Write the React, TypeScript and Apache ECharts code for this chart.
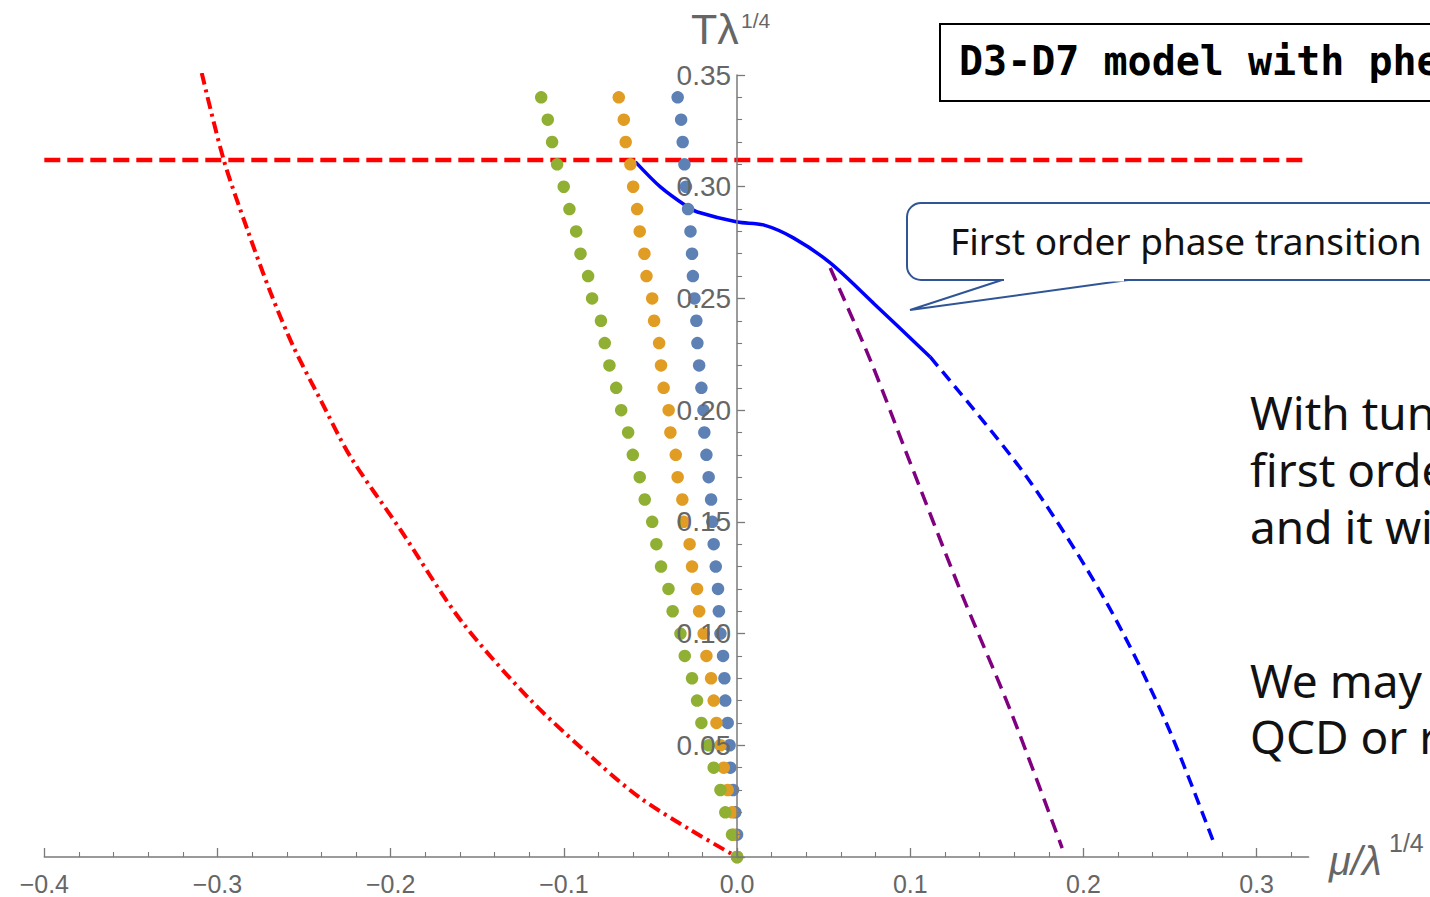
import React, { useEffect, useRef } from "react";
import * as echarts from "echarts";

// y levels of the three dotted series (top to bottom)
const dotY = [0.34, 0.33, 0.32, 0.31, 0.3, 0.29, 0.28, 0.27, 0.26, 0.25, 0.24, 0.23, 0.22, 0.21, 0.2, 0.19, 0.18, 0.17, 0.16, 0.15, 0.14, 0.13, 0.12, 0.11, 0.1, 0.09, 0.08, 0.07, 0.06, 0.05, 0.04, 0.03, 0.02, 0.01, 0.0];
const blueDotX = [-0.0343, -0.0323, -0.0314, -0.0304, -0.0295, -0.0283, -0.0269, -0.026, -0.0255, -0.0246, -0.0235, -0.0229, -0.0219, -0.0206, -0.0194, -0.0189, -0.0177, -0.0164, -0.015, -0.0143, -0.0135, -0.0123, -0.011, -0.0105, -0.0096, -0.0081, -0.0073, -0.0068, -0.0054, -0.0043, -0.0039, -0.0023, -0.001, 0.0, 0.0];
const orangeDotX = [-0.0683, -0.0654, -0.0643, -0.0616, -0.06, -0.0577, -0.0562, -0.0535, -0.0523, -0.049, -0.0479, -0.045, -0.0439, -0.0424, -0.0395, -0.0385, -0.0354, -0.0343, -0.0316, -0.0308, -0.0274, -0.026, -0.0231, -0.0219, -0.0193, -0.0177, -0.015, -0.0135, -0.0119, -0.0096, -0.0077, -0.0054, -0.0029, -0.002, 0.0];
const greenDotX = [-0.1131, -0.1093, -0.1068, -0.1039, -0.1001, -0.0968, -0.0929, -0.0904, -0.086, -0.0837, -0.0786, -0.0764, -0.0737, -0.0698, -0.0669, -0.0629, -0.0602, -0.0562, -0.0533, -0.049, -0.0466, -0.0439, -0.0396, -0.0372, -0.0327, -0.0302, -0.026, -0.0231, -0.0206, -0.0164, -0.0135, -0.0096, -0.0068, -0.0029, 0.0];

// red horizontal dashed line
const redFlatX = [-0.4, 0.3297];
const redFlatY = [0.312, 0.312];

// red dash-dot curve
const redCurveX = [-0.3091, -0.2964, -0.2827, -0.2693, -0.2561, -0.2405, -0.2232, -0.1943, -0.1597, -0.1193, -0.0789, -0.0558, -0.0269, 0.0];
const redCurveY = [0.3509, 0.312, 0.2807, 0.2525, 0.2283, 0.2046, 0.1791, 0.1464, 0.1061, 0.0703, 0.0412, 0.0264, 0.0121, 0.0];

// blue first-order line (solid part, then dashed part)
const blueSolidX = [-0.0587, -0.0443, -0.0287, -0.0229, 0.0002, 0.0152, 0.0325, 0.0538, 0.0786, 0.1115];
const blueSolidY = [0.3111, 0.2999, 0.291, 0.2887, 0.2842, 0.2829, 0.2771, 0.2659, 0.248, 0.2238];
const blueDashX = [0.1115, 0.1664, 0.2125, 0.2471, 0.276];
const blueDashY = [0.2238, 0.171, 0.115, 0.0613, 0.0049];

// purple dashed line
const purpleX = [0.0538, 0.0769, 0.0971, 0.1288, 0.1577, 0.1877];
const purpleY = [0.2636, 0.2225, 0.1822, 0.1195, 0.0658, 0.004];

// tick labels
const xTickValues = [-0.4, -0.3, -0.2, -0.1, 0.0, 0.1, 0.2, 0.3];
const yTickLabelValues = [0.05, 0.1, 0.15, 0.2, 0.25, 0.3, 0.35];

const title = "D3-D7 model with phe";
const calloutText = "First order phase transition";
const sideLines1 = ["With tun", "first orde", "and it wi"];
const sideLines2 = ["We may", "QCD or r"];

const zip = (xs: number[], ys: number[]) => xs.map((x, i) => [x, ys[i]]);

const AXIS_COLOR = "#7a7a7a";
const LABEL_COLOR = "#666666";
const SANS = "'Liberation Sans', Arial, sans-serif";
const JP = "'Noto Sans', 'Noto Sans CJK JP', sans-serif";

const GRID_LEFT = 44.3;
const GRID_RIGHT_PX = 1308.6;
const X_MIN = -0.4;
const X_MAX = 0.33;

export default function App() {
  const ref = useRef<HTMLDivElement>(null);
  useEffect(() => {
    if (!ref.current) return;
    const chart = echarts.init(ref.current, null, { renderer: "svg" });
    const fmtX = (v: number) => (v < -1e-9 ? "\u2212" + Math.abs(v).toFixed(1) : Math.abs(v).toFixed(1));
    // y axis sits at x = 0: shift it right from the grid's left edge
    const zeroPx = GRID_LEFT + ((0 - X_MIN) / (X_MAX - X_MIN)) * (GRID_RIGHT_PX - GRID_LEFT);
    const option: any = {
      animation: false,
      backgroundColor: "#ffffff",
      grid: { left: GRID_LEFT, right: 1430 - GRID_RIGHT_PX, top: 75, bottom: 40, containLabel: false, outerBoundsMode: "none" },
      xAxis: {
        type: "value",
        min: X_MIN,
        max: X_MAX,
        interval: 0.1,
        axisLine: { onZero: true, lineStyle: { color: AXIS_COLOR, width: 1.5 } },
        axisTick: { show: true, inside: true, length: 9, customValues: xTickValues, lineStyle: { color: AXIS_COLOR, width: 1.3 } },
        minorTick: { show: true, splitNumber: 5, length: 5, lineStyle: { color: AXIS_COLOR, width: 1.1 } },
        axisLabel: { customValues: xTickValues, formatter: fmtX, color: LABEL_COLOR, fontSize: 25, fontFamily: SANS, margin: 14 },
        splitLine: { show: false },
        minorSplitLine: { show: false },
        z: 6,
      },
      yAxis: {
        type: "value",
        position: "left",
        offset: -(zeroPx - GRID_LEFT),
        min: 0,
        max: 0.35,
        interval: 0.05,
        axisLine: { onZero: false, lineStyle: { color: AXIS_COLOR, width: 1.5 } },
        axisTick: { show: true, inside: true, length: 8, lineStyle: { color: AXIS_COLOR, width: 1.3 } },
        minorTick: { show: true, splitNumber: 5, length: 5, lineStyle: { color: AXIS_COLOR, width: 1.1 } },
        axisLabel: { customValues: yTickLabelValues, formatter: (v: number) => v.toFixed(2), color: LABEL_COLOR, fontSize: 28, fontFamily: SANS, margin: 6 },
        splitLine: { show: false },
        z: 6,
      },
      series: [
        {
          type: "line", data: zip(redFlatX, redFlatY), showSymbol: false, symbol: "none", z: 2,
          lineStyle: { color: "#ff0000", width: 4.5, type: [16, 7] },
        },
        {
          type: "line", data: zip(redCurveX, redCurveY), showSymbol: false, symbol: "none", smooth: 0.3, z: 2,
          lineStyle: { color: "#ff0000", width: 4, type: [12, 5, 3, 5] },
        },
        {
          type: "line", data: zip(blueSolidX, blueSolidY), showSymbol: false, symbol: "none", smooth: 0.3, z: 2,
          lineStyle: { color: "#0000ff", width: 3.5 },
        },
        {
          type: "line", data: zip(blueDashX, blueDashY), showSymbol: false, symbol: "none", smooth: 0.3, z: 2,
          lineStyle: { color: "#0000ff", width: 3.5, type: [12, 7] },
        },
        {
          type: "line", data: zip(purpleX, purpleY), showSymbol: false, symbol: "none", smooth: 0.3, z: 2,
          lineStyle: { color: "#800080", width: 3.5, type: [14, 8] },
        },
        { type: "scatter", data: zip(blueDotX, dotY), symbolSize: 12.5, itemStyle: { color: "#5E81B5", opacity: 1 }, z: 4 },
        { type: "scatter", data: zip(orangeDotX, dotY), symbolSize: 12.5, itemStyle: { color: "#E19C24", opacity: 1 }, z: 4 },
        { type: "scatter", data: zip(greenDotX, dotY), symbolSize: 12.5, itemStyle: { color: "#8FB032", opacity: 1 }, z: 4 },
      ],
      graphic: [
        // y axis name
        { type: "text", x: 691, y: 29, style: { text: "T\u03bb", font: `43px ${SANS}`, fill: LABEL_COLOR, verticalAlign: "middle" } },
        { type: "text", x: 741, y: 20, style: { text: "1/4", font: `21px ${SANS}`, fill: LABEL_COLOR, verticalAlign: "middle" } },
        // x axis name
        { type: "text", x: 1329, y: 861, style: { text: "\u03bc/\u03bb", font: `italic 40px ${SANS}`, fill: LABEL_COLOR, verticalAlign: "middle" } },
        { type: "text", x: 1389, y: 843, style: { text: "1/4", font: `25px ${SANS}`, fill: LABEL_COLOR, verticalAlign: "middle" } },
        // title box
        { type: "rect", shape: { x: 940, y: 24, width: 540, height: 77 }, style: { fill: "#ffffff", stroke: "#000000", lineWidth: 2 }, z: 10 },
        { type: "text", x: 959, y: 61, style: { text: title, font: `bold 40px 'DejaVu Sans Mono', monospace`, fill: "#000000", verticalAlign: "middle" }, z: 11 },
        // callout
        { type: "rect", shape: { x: 907, y: 203, width: 560, height: 77, r: 14 }, style: { fill: "#ffffff", stroke: "#2F5597", lineWidth: 2 }, z: 10 },
        { type: "polygon", shape: { points: [[1002, 280], [910, 310], [1128, 280]] }, style: { fill: "#ffffff", stroke: "#2F5597", lineWidth: 2 }, z: 11 },
        { type: "line", shape: { x1: 1004, y1: 280, x2: 1124, y2: 280 }, style: { stroke: "#ffffff", lineWidth: 3 }, z: 12 },
        { type: "text", x: 950, y: 240, style: { text: calloutText, font: `37px ${JP}`, fill: "#111111", verticalAlign: "middle" }, z: 12 },
        // side text
        ...sideLines1.map((t, i) => ({ type: "text", x: 1250, y: 412 + i * 57, style: { text: t, font: `46px ${JP}`, fill: "#111111", verticalAlign: "middle" }, z: 12 })),
        ...sideLines2.map((t, i) => ({ type: "text", x: 1250, y: 680 + i * 56, style: { text: t, font: `46px ${JP}`, fill: "#111111", verticalAlign: "middle" }, z: 12 })),
      ],
    };
    chart.setOption(option);
    return () => chart.dispose();
  }, []);
  return <div ref={ref} style={{ position: "absolute", left: 0, top: 0, width: 1430, height: 897 }} />;
}
